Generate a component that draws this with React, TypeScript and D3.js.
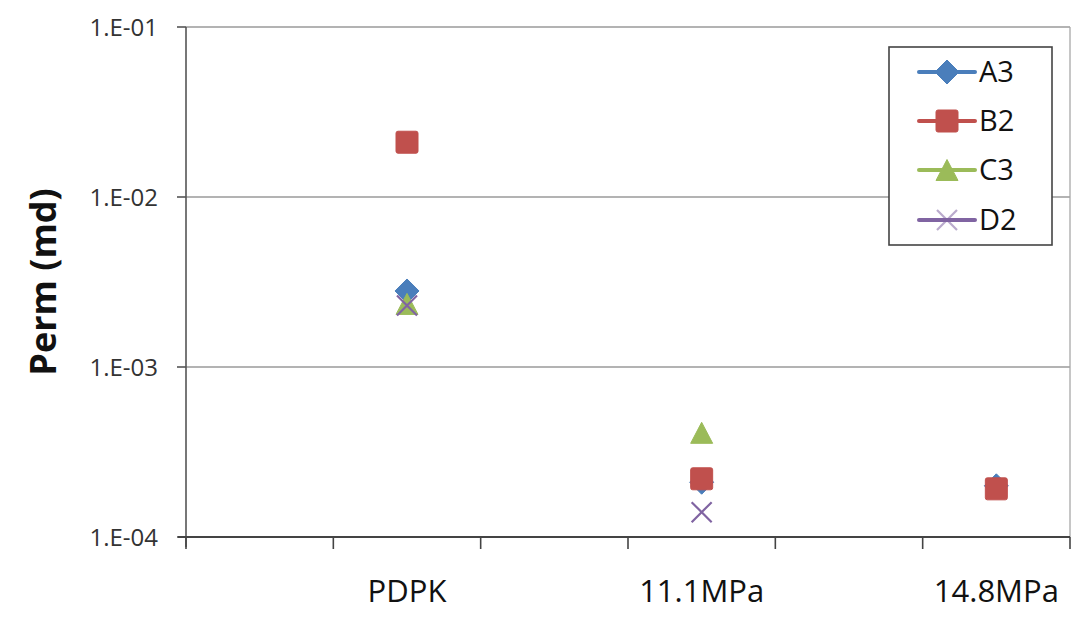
import { useEffect, useRef } from 'react'
import * as d3 from 'd3'

// x slots: Excel-style category axis with blank categories between labels
const X_SLOTS = ['', 'PDPK', '', '11.1MPa', '', '14.8MPa']
const CATEGORY_SLOTS = [1, 3, 5]

const SERIES_NAMES = ['A3', 'B2', 'C3', 'D2']
const A3 = [2.8e-3, 2.1e-4, 2.0e-4]
const B2 = [2.1e-2, 2.2e-4, 1.92e-4]
const C3 = [2.35e-3, 4.1e-4, null]
const D2 = [2.3e-3, 1.4e-4, null]

const Y_TICKS = [1e-4, 1e-3, 1e-2, 1e-1]
const Y_TICK_LABELS = ['1.E-04', '1.E-03', '1.E-02', '1.E-01']

const COLORS = ['#4A7EBB', '#C0504D', '#9BBB59', '#8064A2']
const FONT = '"Open Sans", "Liberation Sans", sans-serif'

type Shape = 'diamond' | 'square' | 'triangle' | 'x'
const SHAPES: Shape[] = ['diamond', 'square', 'triangle', 'x']

function drawMarker(g: d3.Selection<SVGGElement, unknown, null, undefined>, shape: Shape, cx: number, cy: number, color: string) {
  if (shape === 'diamond') {
    const r = 12
    g.append('path')
      .attr('d', `M${cx},${cy - r}L${cx + r},${cy}L${cx},${cy + r}L${cx - r},${cy}Z`)
      .attr('fill', color)
      .attr('stroke', color)
      .attr('stroke-width', 1)
      .attr('stroke-linejoin', 'round')
  } else if (shape === 'square') {
    const s = 22
    g.append('rect')
      .attr('x', cx - s / 2)
      .attr('y', cy - s / 2)
      .attr('width', s)
      .attr('height', s)
      .attr('rx', 2)
      .attr('fill', color)
      .attr('stroke', color)
      .attr('stroke-width', 1)
  } else if (shape === 'triangle') {
    const w = 22
    const h = 21
    g.append('path')
      .attr('d', `M${cx},${cy - h / 2}L${cx + w / 2},${cy + h / 2}L${cx - w / 2},${cy + h / 2}Z`)
      .attr('fill', color)
      .attr('stroke', color)
      .attr('stroke-width', 1)
      .attr('stroke-linejoin', 'round')
  } else {
    const r = 10
    g.append('path')
      .attr('d', `M${cx - r},${cy - r}L${cx + r},${cy + r}M${cx + r},${cy - r}L${cx - r},${cy + r}`)
      .attr('stroke', color)
      .attr('stroke-width', 2.2)
      .attr('fill', 'none')
  }
}

export default function App() {
  const ref = useRef<SVGSVGElement>(null)

  useEffect(() => {
    const svg = d3.select(ref.current)
    svg.selectAll('*').remove()

    const width = 1090
    const height = 620
    const left = 186
    const right = 1070
    const top = 27
    const bottom = 537

    svg.attr('viewBox', `0 0 ${width} ${height}`)

    const x = d3.scaleBand<number>()
      .domain(d3.range(X_SLOTS.length))
      .range([left, right])
      .padding(0)

    const y = d3.scaleLog()
      .domain([1e-4, 1e-1])
      .range([bottom, top])

    // gridlines
    svg.append('g')
      .selectAll('line')
      .data(Y_TICKS.slice(1))
      .join('line')
      .attr('x1', left)
      .attr('x2', right)
      .attr('y1', d => y(d))
      .attr('y2', d => y(d))
      .attr('stroke', '#9a9a9a')
      .attr('stroke-width', 1.3)

    // right border of plot
    svg.append('line')
      .attr('x1', right)
      .attr('x2', right)
      .attr('y1', top)
      .attr('y2', bottom)
      .attr('stroke', '#a8a8a8')
      .attr('stroke-width', 1.3)

    // y axis
    const yAxis = svg.append('g')
    yAxis.append('line')
      .attr('x1', left)
      .attr('x2', left)
      .attr('y1', top)
      .attr('y2', bottom + 10)
      .attr('stroke', '#555')
      .attr('stroke-width', 1.6)
    yAxis.selectAll('line.tick')
      .data(Y_TICKS)
      .join('line')
      .attr('class', 'tick')
      .attr('x1', left - 9)
      .attr('x2', left)
      .attr('y1', d => y(d))
      .attr('y2', d => y(d))
      .attr('stroke', '#555')
      .attr('stroke-width', 1.6)
    yAxis.selectAll('text')
      .data(Y_TICKS)
      .join('text')
      .attr('x', 158)
      .attr('y', d => y(d))
      .attr('dy', '0.36em')
      .attr('text-anchor', 'end')
      .attr('font-family', FONT)
      .attr('font-size', 24)
      .attr('fill', '#333')
      .text((_, i) => Y_TICK_LABELS[i])

    svg.append('text')
      .attr('transform', `translate(56,282) rotate(-90)`)
      .attr('text-anchor', 'middle')
      .attr('font-family', FONT)
      .attr('font-weight', 'bold')
      .attr('font-size', 36)
      .attr('fill', '#111')
      .text('Perm (md)')

    // x axis
    const xAxis = svg.append('g')
    xAxis.append('line')
      .attr('x1', left - 8)
      .attr('x2', right)
      .attr('y1', bottom)
      .attr('y2', bottom)
      .attr('stroke', '#444')
      .attr('stroke-width', 1.8)
    const boundaries = [...d3.range(X_SLOTS.length).map(i => x(i)!), right]
    xAxis.selectAll('line.tick')
      .data(boundaries)
      .join('line')
      .attr('class', 'tick')
      .attr('x1', d => d)
      .attr('x2', d => d)
      .attr('y1', bottom)
      .attr('y2', bottom + 12)
      .attr('stroke', '#444')
      .attr('stroke-width', 1.6)
    xAxis.selectAll('text')
      .data(X_SLOTS.map((label, i) => ({ label, i })).filter(d => d.label))
      .join('text')
      .attr('x', d => x(d.i)! + x.bandwidth() / 2)
      .attr('y', 602)
      .attr('text-anchor', 'middle')
      .attr('font-family', FONT)
      .attr('font-size', 31)
      .attr('fill', '#111')
      .text(d => d.label)

    // points
    const seriesValues = [A3, B2, C3, D2]
    const marks = svg.append('g')
    seriesValues.forEach((vals, s) => {
      vals.forEach((v, k) => {
        if (v == null) return
        const cx = x(CATEGORY_SLOTS[k])! + x.bandwidth() / 2
        drawMarker(marks, SHAPES[s], cx, y(v), COLORS[s])
      })
    })

    // legend
    const lg = svg.append('g')
    lg.append('rect')
      .attr('x', 889)
      .attr('y', 47)
      .attr('width', 163)
      .attr('height', 198)
      .attr('fill', '#fff')
      .attr('stroke', '#444')
      .attr('stroke-width', 1.6)
    const rowY = [72, 121, 170, 220]
    SERIES_NAMES.forEach((name, s) => {
      const yy = rowY[s]
      lg.append('line')
        .attr('x1', 919)
        .attr('x2', 975)
        .attr('y1', yy)
        .attr('y2', yy)
        .attr('stroke', COLORS[s])
        .attr('stroke-width', 4)
        .attr('stroke-linecap', 'round')
      const mg = lg.append('g')
      drawMarker(mg, SHAPES[s], 947, yy, COLORS[s])
      if (SHAPES[s] === 'x') mg.attr('opacity', 0.55)
      lg.append('text')
        .attr('x', 979)
        .attr('y', yy)
        .attr('dy', '0.36em')
        .attr('font-family', FONT)
        .attr('font-size', 29)
        .attr('fill', '#111')
        .text(name)
    })
  }, [])

  return (
    <svg
      ref={ref}
      width={1090}
      height={620}
      style={{ position: 'absolute', left: 0, top: 0, background: '#fff' }}
    />
  )
}
